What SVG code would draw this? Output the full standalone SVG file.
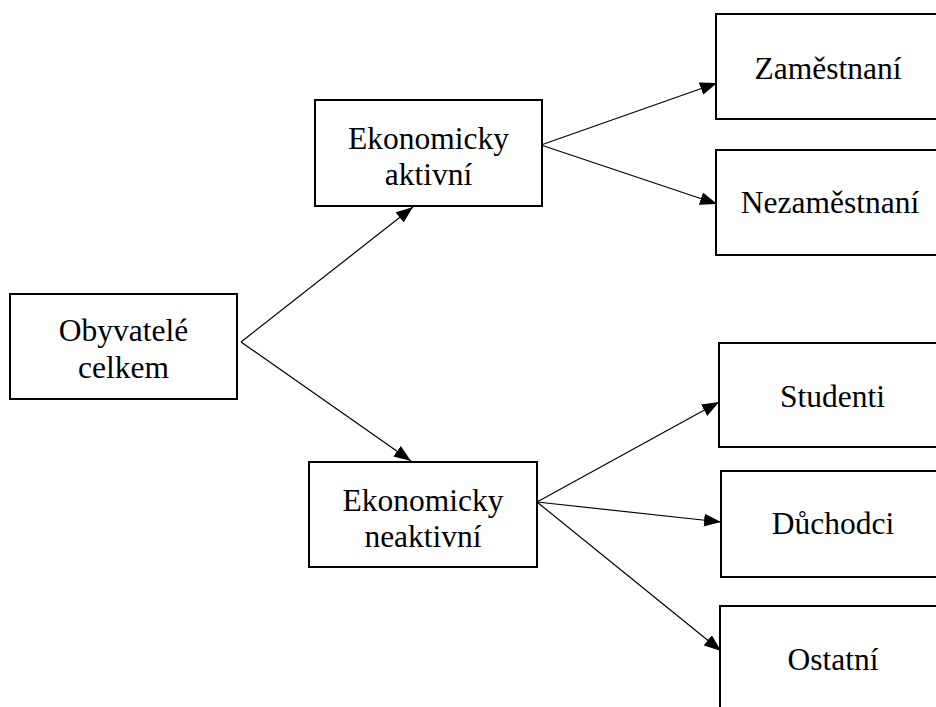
<svg xmlns="http://www.w3.org/2000/svg" width="936" height="707" viewBox="0 0 936 707">
<style>
.box{fill:#fff;stroke:#000;stroke-width:2}
.t{font-family:"Liberation Serif","Times New Roman",serif;font-size:31.5px;fill:#000;text-anchor:middle}
.c{stroke:#000;stroke-width:1.2;fill:none;marker-end:url(#ah)}
</style>
<defs>
<marker id="ah" markerUnits="userSpaceOnUse" markerWidth="18" markerHeight="14" refX="17" refY="6.5" orient="auto">
<path d="M0,0 L17,6.5 L0,13 z" fill="#000"/>
</marker>
</defs>
<rect width="936" height="707" fill="#fff"/>
<g id="connectors">
<line class="c" x1="241" y1="342" x2="413" y2="207"/>
<line class="c" x1="241" y1="342" x2="411" y2="461"/>
<line class="c" x1="541" y1="145" x2="717" y2="83"/>
<line class="c" x1="541" y1="145" x2="717" y2="204"/>
<line class="c" x1="537" y1="502" x2="719" y2="402"/>
<line class="c" x1="537" y1="502" x2="721" y2="522"/>
<line class="c" x1="537" y1="502" x2="721" y2="651"/>
</g>
<g id="obyvatele">
<rect class="box" x="10" y="294" width="227" height="105"/>
<text class="t" x="123.5" y="341">Obyvatelé</text>
<text class="t" x="123.5" y="378">celkem</text>
</g>
<g id="aktivni">
<rect class="box" x="315" y="100" width="227" height="106"/>
<text class="t" x="428.5" y="149">Ekonomicky</text>
<text class="t" x="428.5" y="185">aktivní</text>
</g>
<g id="neaktivni">
<rect class="box" x="309" y="462" width="228" height="105"/>
<text class="t" x="423" y="511">Ekonomicky</text>
<text class="t" x="423" y="547">neaktivní</text>
</g>
<g id="zamestnani">
<rect class="box" x="716" y="14" width="227" height="105"/>
<text class="t" x="828" y="79">Zaměstnaní</text>
</g>
<g id="nezamestnani">
<rect class="box" x="716" y="150" width="227" height="105"/>
<text class="t" x="830" y="213">Nezaměstnaní</text>
</g>
<g id="studenti">
<rect class="box" x="719" y="343" width="227" height="104"/>
<text class="t" x="832.5" y="407">Studenti</text>
</g>
<g id="duchodci">
<rect class="box" x="721" y="471" width="227" height="106"/>
<text class="t" x="833" y="534">Důchodci</text>
</g>
<g id="ostatni">
<rect class="box" x="720" y="606" width="227" height="110"/>
<text class="t" x="833" y="670">Ostatní</text>
</g>
</svg>
